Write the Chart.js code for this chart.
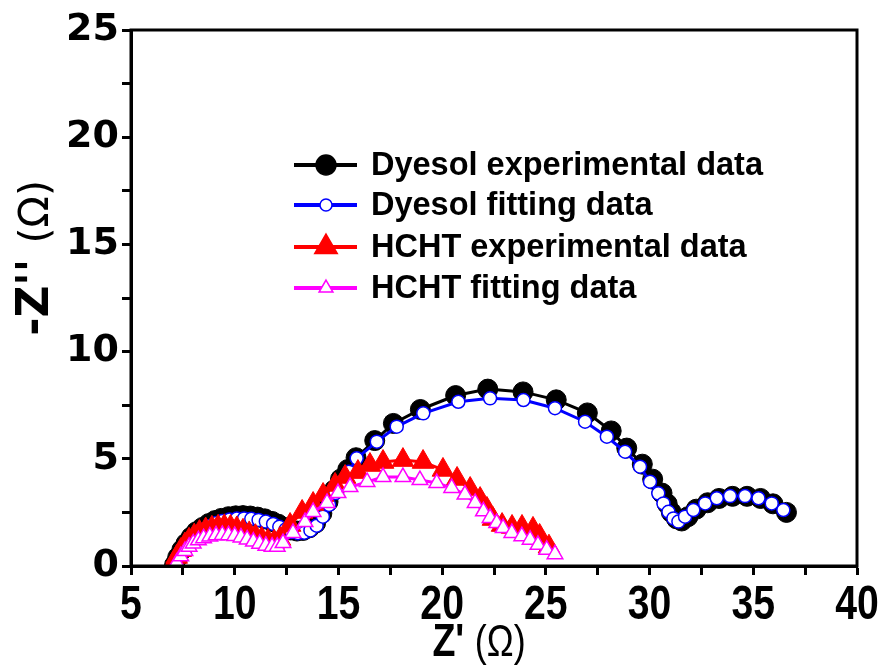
<!DOCTYPE html>
<html>
<head>
<meta charset="utf-8">
<script src="https://cdn.jsdelivr.net/npm/chart.js@4.4.0/dist/chart.umd.min.js"></script>
<style>
  body { margin: 0; background: #fff; }
  #wrap { width: 882px; height: 671px; }
</style>
</head>
<body>
<div id="wrap"><canvas id="myChart" width="882" height="671"></canvas></div>
<script>
// Nyquist data, Z' and -Z'' in ohm
var dyesolExpX = [7.1, 7.25, 7.45, 7.65, 7.9, 8.15, 8.45, 8.75, 9.05, 9.35, 9.7, 10.05, 10.4, 10.75, 11.1, 11.45, 11.8, 12.1, 12.4, 12.7, 13.0, 13.3, 13.6, 13.9, 14.2, 14.5, 14.8, 15.1, 15.45, 15.85, 16.75, 17.65, 18.95, 20.65, 22.2, 23.9, 25.5, 27.0, 28.15, 28.9, 29.65, 30.15, 30.6, 30.85, 31.05, 31.3, 31.55, 31.85, 32.25, 32.8, 33.35, 34.0, 34.7, 35.35, 35.95, 36.6];
var dyesolExpY = [0.05, 0.4, 0.75, 1.05, 1.35, 1.6, 1.8, 1.98, 2.12, 2.22, 2.3, 2.34, 2.35, 2.33, 2.28, 2.2, 2.08, 1.95, 1.8, 1.68, 1.63, 1.66, 1.78, 2.0, 2.45, 3.0, 3.55, 4.05, 4.5, 5.05, 5.85, 6.65, 7.3, 7.95, 8.25, 8.12, 7.75, 7.14, 6.3, 5.5, 4.75, 4.05, 3.4, 2.9, 2.5, 2.2, 2.1, 2.3, 2.65, 2.95, 3.15, 3.25, 3.25, 3.15, 2.9, 2.5];

var dyesolFitX = [7.15, 7.3, 7.5, 7.7, 7.95, 8.2, 8.5, 8.8, 9.1, 9.4, 9.75, 10.1, 10.45, 10.8, 11.15, 11.5, 11.85, 12.15, 12.45, 12.75, 13.05, 13.35, 13.65, 13.95, 14.25, 14.55, 14.85, 15.15, 15.5, 15.88, 16.85, 17.81, 19.09, 20.78, 22.31, 23.92, 25.44, 26.89, 27.94, 28.82, 29.54, 30.02, 30.42, 30.67, 30.91, 31.15, 31.39, 31.71, 32.11, 32.68, 33.24, 33.88, 34.6, 35.25, 35.89, 36.45];
var dyesolFitY = [0.05, 0.35, 0.68, 0.97, 1.25, 1.5, 1.7, 1.87, 2.0, 2.1, 2.17, 2.21, 2.22, 2.2, 2.15, 2.07, 1.96, 1.83, 1.7, 1.59, 1.53, 1.55, 1.66, 1.88, 2.3, 2.85, 3.4, 3.9, 4.4, 5.02, 5.8, 6.5, 7.12, 7.66, 7.82, 7.74, 7.36, 6.73, 6.03, 5.33, 4.63, 3.93, 3.39, 2.92, 2.53, 2.22, 2.07, 2.3, 2.61, 2.92, 3.16, 3.26, 3.26, 3.16, 2.92, 2.61];

var hchtExpX = [7.05, 7.2, 7.4, 7.6, 7.8, 8.05, 8.3, 8.6, 8.9, 9.2, 9.5, 9.8, 10.1, 10.4, 10.7, 11.0, 11.3, 11.6, 11.9, 12.18, 12.67, 13.25, 13.78, 14.26, 14.84, 15.32, 15.94, 16.52, 17.15, 18.11, 19.08, 20.04, 20.72, 21.35, 21.83, 22.16, 22.45, 22.89, 23.37, 23.85, 24.38, 24.7, 25.15];
var hchtExpY = [0.1, 0.42, 0.74, 1.0, 1.22, 1.42, 1.58, 1.7, 1.78, 1.83, 1.85, 1.82, 1.75, 1.64, 1.52, 1.39, 1.27, 1.17, 1.13, 1.26, 1.91, 2.52, 2.89, 3.31, 3.78, 4.15, 4.38, 4.71, 4.85, 4.94, 4.85, 4.48, 4.06, 3.59, 3.12, 2.66, 2.19, 1.91, 1.82, 1.82, 1.73, 1.4, 0.9];

var hchtFitX = [7.2, 7.4, 7.6, 7.8, 8.0, 8.25, 8.5, 8.8, 9.1, 9.4, 9.7, 10.0, 10.3, 10.6, 10.9, 11.2, 11.5, 11.8, 12.05, 12.33, 12.81, 13.39, 13.78, 14.45, 14.98, 15.56, 16.38, 17.15, 18.11, 18.93, 19.74, 20.46, 21.1, 21.59, 21.99, 22.31, 22.63, 22.94, 23.36, 23.84, 24.24, 24.62, 25.04, 25.44];
var hchtFitY = [0.15, 0.45, 0.7, 0.9, 1.05, 1.2, 1.3, 1.38, 1.43, 1.45, 1.44, 1.4, 1.33, 1.24, 1.14, 1.04, 0.95, 0.9, 0.9, 1.07, 1.54, 2.05, 2.52, 2.94, 3.4, 3.68, 3.92, 4.15, 4.15, 4.01, 3.87, 3.64, 3.33, 2.94, 2.55, 2.24, 2.0, 1.77, 1.54, 1.39, 1.23, 0.99, 0.76, 0.55];

var seriesNames = ['Dyesol experimental data', 'Dyesol fitting data', 'HCHT experimental data', 'HCHT fitting data'];
var xTicks = [5, 10, 15, 20, 25, 30, 35, 40];
var yTicks = [0, 5, 10, 15, 20, 25];

function pts(xs, ys) {
    return xs.map(function (x, i) { return {x: x, y: ys[i]}; });
}

// narrow (squeezed) text, the x axis of the original uses a condensed face
function narrowText(ctx, txt, x, y, sx) {
    ctx.save();
    ctx.translate(x, y);
    ctx.scale(sx, 1);
    ctx.fillText(txt, 0, 0);
    ctx.restore();
}

// frame round the plot (top and right sides)
var framePlugin = {
    id: 'frame',
    afterDraw: function (chart) {
        var a = chart.chartArea, ctx = chart.ctx;
        ctx.save();
        ctx.strokeStyle = '#000';
        ctx.lineWidth = 3;
        ctx.strokeRect(a.left, a.top, a.right - a.left, a.bottom - a.top);
        ctx.restore();
    }
};

// x tick labels drawn condensed at the scale's own tick positions
var xLabelPlugin = {
    id: 'xLabels',
    afterDraw: function (chart) {
        var s = chart.scales.x, ctx = chart.ctx;
        ctx.save();
        ctx.fillStyle = '#000';
        ctx.font = 'bold 49px "Liberation Sans", Arial, sans-serif';
        ctx.textAlign = 'center';
        ctx.textBaseline = 'alphabetic';
        xTicks.forEach(function (v) {
            narrowText(ctx, String(v), s.getPixelForValue(v), s.top + 53, 0.8);
        });
        ctx.restore();
    }
};

// legend with line + marker, like the origin one
var legendPlugin = {
    id: 'lineLegend',
    afterDraw: function (chart) {
        var ctx = chart.ctx;
        var rows = [165, 205, 247, 288];
        var sizes = [10, 6, 13, 8];
        ctx.save();
        chart.data.datasets.forEach(function (ds, i) {
            var y = rows[i];
            ctx.strokeStyle = ds.borderColor;
            ctx.lineWidth = 4;
            ctx.beginPath();
            ctx.moveTo(294, y);
            ctx.lineTo(357, y);
            ctx.stroke();
            ctx.fillStyle = ds.pointBackgroundColor;
            ctx.strokeStyle = ds.pointBorderColor;
            ctx.lineWidth = 1.5;
            Chart.helpers.drawPoint(ctx, {pointStyle: ds.pointStyle, radius: sizes[i], rotation: 0, borderWidth: 1.5}, 326, y);
            ctx.fillStyle = '#000';
            ctx.font = 'bold 32.5px "Liberation Sans", Arial, sans-serif';
            ctx.textBaseline = 'middle';
            ctx.fillText(ds.label, 371, y + 1);
        });
        ctx.restore();
    }
};

// axis titles, bold symbol part + plain unit
var titlePlugin = {
    id: 'axisTitles',
    afterDraw: function (chart) {
        var ctx = chart.ctx;
        ctx.save();
        ctx.fillStyle = '#000';
        ctx.textBaseline = 'alphabetic';
        // x title, condensed
        var sx = 0.8;
        var f1 = 'bold 47px "Liberation Sans", sans-serif';
        var f2 = '45px "Liberation Sans", sans-serif';
        ctx.font = f1; var w1 = ctx.measureText("Z' ").width * sx;
        ctx.font = f2; var w2 = ctx.measureText('(\u03A9)').width * sx;
        var x0 = 479 - (w1 + w2) / 2;
        ctx.font = f1; narrowText(ctx, "Z' ", x0, 656, sx);
        ctx.font = f2; narrowText(ctx, '(\u03A9)', x0 + w1, 656, sx);
        // y title, rotated
        ctx.translate(48, 258);
        ctx.rotate(-Math.PI / 2);
        var g1 = 'bold 44px "DejaVu Sans", sans-serif';
        var g2 = '41px "DejaVu Sans", sans-serif';
        ctx.font = g1; var v1 = ctx.measureText("-Z'' ").width;
        ctx.font = g2; var v2 = ctx.measureText('(\u03A9)').width;
        var s = -(v1 + v2) / 2;
        ctx.font = g1; ctx.fillText("-Z'' ", s, 0);
        ctx.font = g2; ctx.fillText('(\u03A9)', s + v1, 0);
        ctx.restore();
    }
};

var ctx = document.getElementById('myChart').getContext('2d');
var myChart = new Chart(ctx, {
    type: 'scatter',
    data: {
        datasets: [{
            label: seriesNames[0],
            data: pts(dyesolExpX, dyesolExpY),
            showLine: true,
            borderColor: '#000',
            borderWidth: 3,
            pointStyle: 'circle',
            pointRadius: 10,
            pointBackgroundColor: '#000',
            pointBorderColor: '#000',
            pointBorderWidth: 1,
            order: 4
        }, {
            label: seriesNames[1],
            data: pts(dyesolFitX, dyesolFitY),
            showLine: true,
            borderColor: '#0000ff',
            borderWidth: 3,
            pointStyle: 'circle',
            pointRadius: 6.5,
            pointBackgroundColor: '#fff',
            pointBorderColor: '#0000ff',
            pointBorderWidth: 1.5,
            order: 3
        }, {
            label: seriesNames[2],
            data: pts(hchtExpX, hchtExpY),
            showLine: true,
            borderColor: '#ff0000',
            borderWidth: 3,
            pointStyle: 'triangle',
            pointRadius: 12.5,
            pointBackgroundColor: '#ff0000',
            pointBorderColor: '#ff0000',
            pointBorderWidth: 1,
            order: 2
        }, {
            label: seriesNames[3],
            data: pts(hchtFitX, hchtFitY),
            showLine: true,
            borderColor: '#ff00ff',
            borderWidth: 3,
            pointStyle: 'triangle',
            pointRadius: 9,
            pointBackgroundColor: '#fff',
            pointBorderColor: '#ff00ff',
            pointBorderWidth: 1.5,
            order: 1
        }]
    },
    options: {
        responsive: false,
        animation: false,
        layout: {padding: {left: 0, right: 25, top: 30, bottom: 0}},
        plugins: {legend: {display: false}, tooltip: {enabled: false}},
        scales: {
            x: {
                type: 'linear',
                min: 5, max: 40,
                afterFit: function (s) { s.height = 105; },
                afterBuildTicks: function (s) {
                    s.ticks = [];
                    for (var v = 5; v <= 40; v += 2.5) s.ticks.push({value: v});
                },
                ticks: {
                    autoSkip: false,
                    maxRotation: 0,
                    padding: 0,
                    color: 'rgba(0,0,0,0)',
                    font: {family: '"Liberation Sans", sans-serif', size: 30, weight: 'bold', lineHeight: 1},
                    callback: function (v) { return xTicks.indexOf(v) >= 0 ? String(v) : ''; }
                },
                grid: {drawOnChartArea: false, tickLength: 9, tickWidth: 3, tickColor: '#000'},
                border: {display: true, width: 3, color: '#000'}
            },
            y: {
                type: 'linear',
                min: 0, max: 25,
                afterFit: function (s) { s.width = 131; },
                afterBuildTicks: function (s) {
                    s.ticks = [];
                    for (var v = 0; v <= 25; v += 2.5) s.ticks.push({value: v});
                },
                ticks: {
                    autoSkip: false,
                    padding: 3,
                    color: '#000',
                    font: {family: '"DejaVu Sans", sans-serif', size: 38, weight: 'bold', lineHeight: 1},
                    callback: function (v) { return yTicks.indexOf(v) >= 0 ? String(v) : ''; }
                },
                grid: {drawOnChartArea: false, tickLength: 9, tickWidth: 3, tickColor: '#000'},
                border: {display: true, width: 3, color: '#000'}
            }
        }
    },
    plugins: [framePlugin, xLabelPlugin, legendPlugin, titlePlugin]
});
</script>
</body>
</html>
